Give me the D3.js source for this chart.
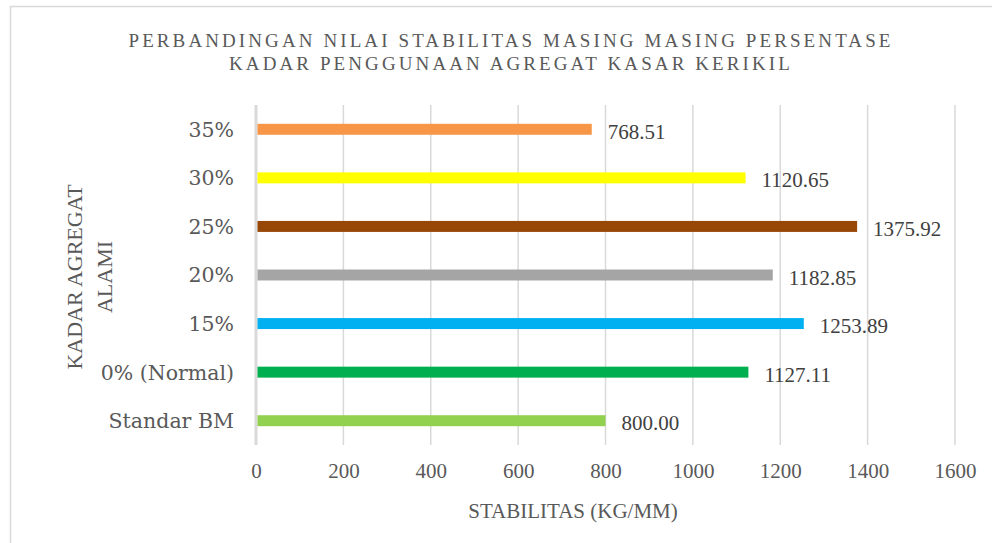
<!DOCTYPE html>
<html>
<head>
<meta charset="utf-8">
<script src="https://cdn.jsdelivr.net/npm/d3@7"></script>
<style>
  html, body { margin: 0; padding: 0; background: #fff; }
  svg { display: block; }
</style>
</head>
<body>
<script>
"use strict";

// data
var categories = ["Standar BM", "0% (Normal)", "15%", "20%", "25%", "30%", "35%"];
var values = [800.00, 1127.11, 1253.89, 1182.85, 1375.92, 1120.65, 768.51];
var barColors = ["#92D050", "#00B050", "#00B0F0", "#A5A5A5", "#974706", "#FFFF00", "#F79646"];
var xTicks = [0, 200, 400, 600, 800, 1000, 1200, 1400, 1600];
var titleLines = ["PERBANDINGAN NILAI STABILITAS MASING MASING PERSENTASE",
                  "KADAR PENGGUNAAN AGREGAT KASAR KERIKIL"];
var yTitleLines = ["KADAR AGREGAT", "ALAMI"];
var xTitle = "STABILITAS (KG/MM)";

var width = 992;
var height = 543;
var textColor = "#595959";
var gridColor = "#d9d9d9";
var numFont = "'Liberation Serif', 'DejaVu Serif', serif";
var catFont = "'DejaVu Serif', 'Liberation Serif', serif";

var rows = categories.map(function (c, i) {
    return { cat: c, value: values[i], color: barColors[i] };
});

var svg = d3.select("body").append("svg")
    .attr("width", width)
    .attr("height", height);

// chart frame
svg.append("rect")
    .attr("x", 10.5).attr("y", 6.5)
    .attr("width", 1000).attr("height", 560)
    .attr("fill", "#fff")
    .attr("stroke", gridColor)
    .attr("stroke-width", 1.5);

var x = d3.scaleLinear().domain([0, 1600]).range([256, 955]);
var y = d3.scaleBand()
    .domain(categories.slice().reverse())
    .range([105, 445])
    .paddingInner(0.774)
    .paddingOuter(0.387);

// gridlines
svg.append("g")
  .selectAll("line")
  .data(xTicks.slice(1))
  .enter().append("line")
    .attr("x1", d => x(d)).attr("x2", d => x(d))
    .attr("y1", 105).attr("y2", 445)
    .attr("stroke", gridColor)
    .attr("stroke-width", 1.5);

// y axis line
svg.append("line")
    .attr("x1", x(0)).attr("x2", x(0))
    .attr("y1", 105).attr("y2", 445)
    .attr("stroke", gridColor)
    .attr("stroke-width", 3);

// x tick labels via d3 axis
var xAxis = svg.append("g")
    .attr("transform", "translate(0,463)")
    .call(d3.axisBottom(x).tickValues(xTicks).tickSize(0).tickPadding(0).tickFormat(d3.format("d")));
xAxis.select(".domain").remove();
xAxis.attr("font-family", numFont).attr("font-size", 21);
xAxis.selectAll("text")
    .attr("fill", textColor)
    .attr("dy", "0.71em");

// category labels via d3 axis
var yAxis = svg.append("g")
    .attr("transform", "translate(" + (x(0) - 22) + ",0)")
    .call(d3.axisLeft(y).tickSize(0).tickPadding(0));
yAxis.select(".domain").remove();
yAxis.attr("font-family", catFont).attr("font-size", 20.5);
yAxis.selectAll("text")
    .attr("fill", textColor)
    .attr("dy", "0.36em");

// bars
svg.append("g")
  .selectAll("rect")
  .data(rows)
  .enter().append("rect")
    .attr("x", x(0) + 1.5)
    .attr("y", d => y(d.cat))
    .attr("width", d => x(d.value) - x(0) - 1.5)
    .attr("height", y.bandwidth())
    .attr("fill", d => d.color);

// value labels
svg.append("g")
    .attr("font-family", numFont)
    .attr("font-size", 21)
  .selectAll("text")
  .data(rows)
  .enter().append("text")
    .attr("x", d => x(d.value) + 16)
    .attr("y", d => y(d.cat) + y.bandwidth() / 2 + 2)
    .attr("dy", "0.36em")
    .attr("fill", "#404040")
    .text(d => d3.format(".2f")(d.value));

// chart title
svg.append("g")
    .attr("font-family", numFont)
    .attr("font-size", 19)
  .selectAll("text")
  .data(titleLines)
  .enter().append("text")
    .attr("x", 511)
    .attr("y", (d, i) => 40 + i * 23)
    .attr("dy", "0.36em")
    .attr("text-anchor", "middle")
    .attr("fill", textColor)
    .style("letter-spacing", "3.1px")
    .text(d => d);

// x axis title
svg.append("text")
    .attr("x", 573)
    .attr("y", 510)
    .attr("dy", "0.36em")
    .attr("text-anchor", "middle")
    .attr("fill", textColor)
    .attr("font-family", numFont)
    .attr("font-size", 21)
    .text(xTitle);

// y axis title
svg.append("g")
    .attr("transform", "translate(0,277) rotate(-90)")
    .attr("font-family", numFont)
    .attr("font-size", 22)
  .selectAll("text")
  .data(yTitleLines)
  .enter().append("text")
    .attr("x", 0)
    .attr("y", (d, i) => 74 + i * 30)
    .attr("dy", "0.36em")
    .attr("text-anchor", "middle")
    .attr("fill", textColor)
    .text(d => d);
</script>
</body>
</html>
